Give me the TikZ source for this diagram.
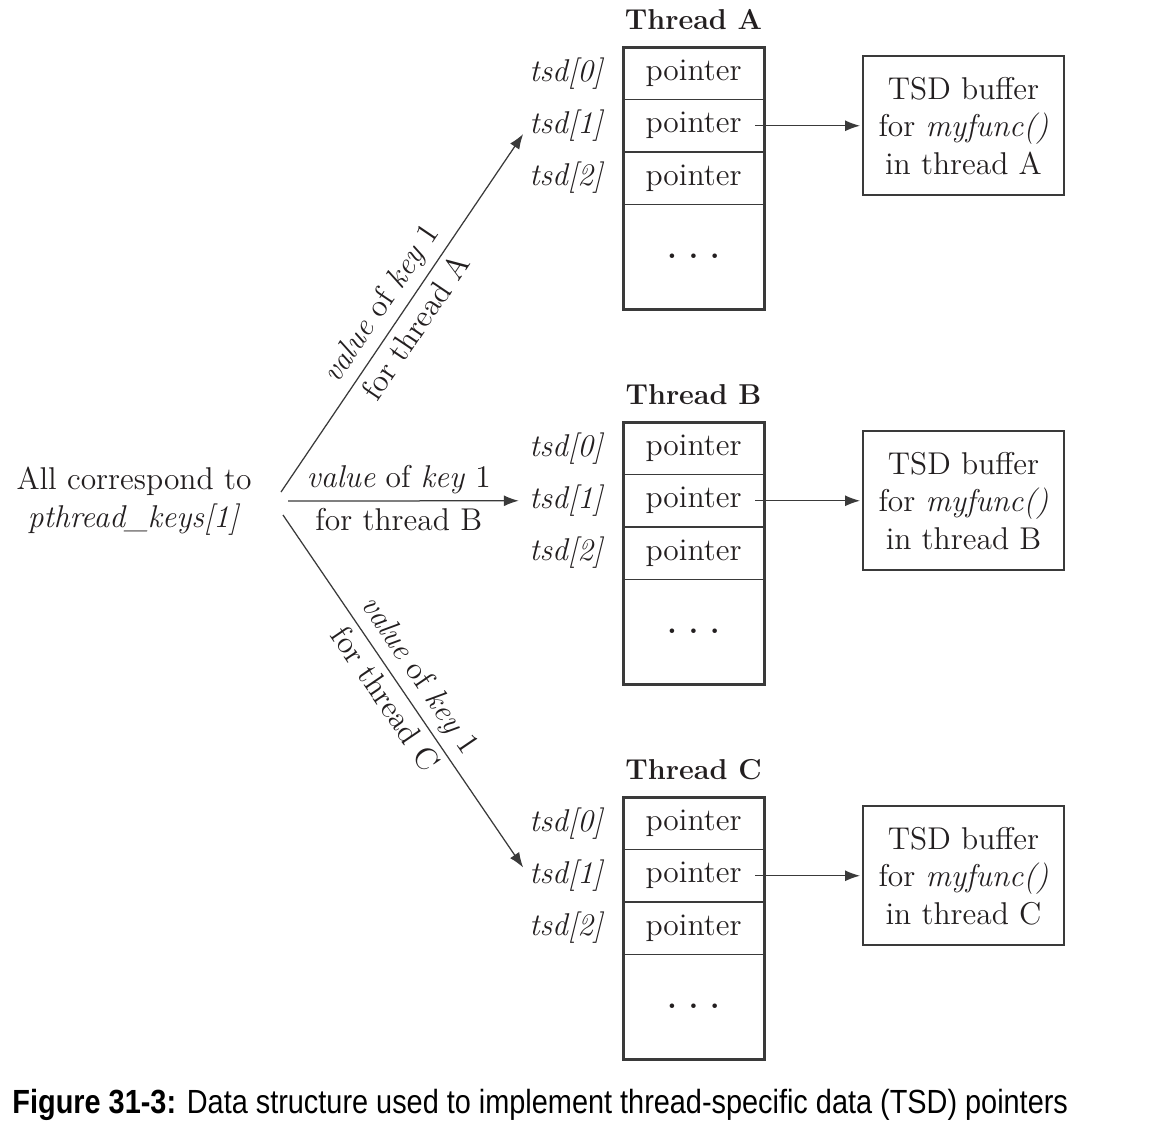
\documentclass[tikz,border=0pt]{standalone}
\usepackage{fontspec}
\newfontfamily\capfont[FakeStretch=0.862]{Liberation Sans}
\usetikzlibrary{positioning,arrows.meta}
\definecolor{ink}{HTML}{231F20}
\definecolor{rulegray}{HTML}{3A3A3A}
\newcommand{\txtsize}{\fontsize{12.6pt}{15pt}\selectfont}

\tikzset{
  cell/.style={draw=rulegray, line width=0.5pt, outer sep=0pt, inner sep=0pt,
    minimum width=56.4pt, minimum height=20.9pt, font=\txtsize, text=ink},
  dotcell/.style={cell, minimum height=42pt},
  tableframe/.style={draw=rulegray, line width=1.2pt},
  idx/.style={inner sep=0pt, font=\txtsize\itshape, text=ink},
  threadtitle/.style={inner sep=0pt, font=\fontsize{11.5pt}{13pt}\selectfont\bfseries, text=ink},
  tsdbuf/.style={draw=rulegray, line width=0.9pt, outer sep=0pt, minimum width=80.4pt,
    minimum height=55.6pt, align=center, inner sep=0pt, font=\txtsize, text=ink},
  ptr/.style={draw=rulegray, line width=0.5pt, -{Latex[length=6pt,width=4.4pt]}},
  lbl/.style={inner sep=2.6pt, font=\txtsize, text=ink, sloped},
}

\begin{document}
\begin{tikzpicture}[x=0.4pt, y=-0.4pt]
    \useasboundingbox (0,0) rectangle (1168,1128);

    % thread A
    \node[cell] (a0) at (693.5,73.5) {pointer};
    \node[cell, below=0pt of a0] (a1) {pointer};
    \node[cell, below=0pt of a1] (a2) {pointer};
    \node[dotcell, below=0pt of a2] (a3) {\textbf{.}\hspace{4.6pt}\textbf{.}\hspace{4.6pt}\textbf{.}};
    \draw[tableframe] (a0.north west) rectangle (a3.south east);
    \node[threadtitle, above=6.8pt of a0] (ta) {Thread A};
    \node[idx, left=8pt of a0] (ia0) {tsd[0]};
    \node[idx, left=8pt of a1] (ia1) {tsd[1]};
    \node[idx, left=8pt of a2] (ia2) {tsd[2]};
    \node[tsdbuf, right=39.6pt of a1] (bufa) {TSD buffer\\for \textit{myfunc()}\\in thread A};
    \draw[ptr, shorten >=1.2pt] ([xshift=-3.6pt]a1.east) -- (bufa.west);

    % thread B
    \node[cell] (b0) at (693.5,448.5) {pointer};
    \node[cell, below=0pt of b0] (b1) {pointer};
    \node[cell, below=0pt of b1] (b2) {pointer};
    \node[dotcell, below=0pt of b2] (b3) {\textbf{.}\hspace{4.6pt}\textbf{.}\hspace{4.6pt}\textbf{.}};
    \draw[tableframe] (b0.north west) rectangle (b3.south east);
    \node[threadtitle, above=6.8pt of b0] (tb) {Thread B};
    \node[idx, left=8pt of b0] (ib0) {tsd[0]};
    \node[idx, left=8pt of b1] (ib1) {tsd[1]};
    \node[idx, left=8pt of b2] (ib2) {tsd[2]};
    \node[tsdbuf, right=39.6pt of b1] (bufb) {TSD buffer\\for \textit{myfunc()}\\in thread B};
    \draw[ptr, shorten >=1.2pt] ([xshift=-3.6pt]b1.east) -- (bufb.west);

    % thread C
    \node[cell] (c0) at (693.5,823.5) {pointer};
    \node[cell, below=0pt of c0] (c1) {pointer};
    \node[cell, below=0pt of c1] (c2) {pointer};
    \node[dotcell, below=0pt of c2] (c3) {\textbf{.}\hspace{4.6pt}\textbf{.}\hspace{4.6pt}\textbf{.}};
    \draw[tableframe] (c0.north west) rectangle (c3.south east);
    \node[threadtitle, above=6.8pt of c0] (tc) {Thread C};
    \node[idx, left=8pt of c0] (ic0) {tsd[0]};
    \node[idx, left=8pt of c1] (ic1) {tsd[1]};
    \node[idx, left=8pt of c2] (ic2) {tsd[2]};
    \node[tsdbuf, right=39.6pt of c1] (bufc) {TSD buffer\\for \textit{myfunc()}\\in thread C};
    \draw[ptr, shorten >=1.2pt] ([xshift=-3.6pt]c1.east) -- (bufc.west);

    % the key
    \node[inner sep=0pt, align=center, font=\txtsize, text=ink] (keys) at (134,501)
        {All correspond to\\\textit{pthread\_keys[1]}};
    \coordinate (fromA) at (281,492);
    \coordinate (fromB) at (288,501);
    \coordinate (fromC) at (283,515);

    \draw[ptr, shorten >=4pt] (fromA) -- (ia1.west)
        node[lbl, above, pos=0.48] {\textit{value} of \textit{key} 1}
        node[lbl, below, pos=0.48] {for thread A};
    \draw[ptr, shorten >=4pt] (fromB) -- (ib1.west)
        node[lbl, above, pos=0.46] {\textit{value} of \textit{key} 1}
        node[lbl, below, pos=0.46] {for thread B};
    \draw[ptr, shorten >=4pt] (fromC) -- (ic1.west)
        node[lbl, above, pos=0.48] {\textit{value} of \textit{key} 1}
        node[lbl, below, pos=0.48] {for thread C};

    % caption
    \node[anchor=base west, inner sep=0pt, font=\capfont\fontsize{13.4pt}{15pt}\selectfont]
        (cap) at (12,1113) {\textbf{Figure 31-3:} Data structure used to implement thread-specific data (TSD) pointers};

\end{tikzpicture}
\end{document}
